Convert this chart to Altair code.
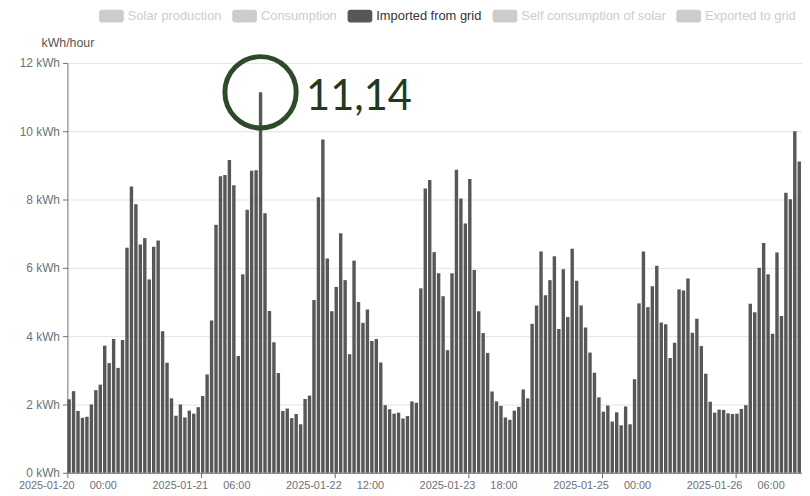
import altair as alt
import pandas as pd

# ---- data ----
series_names = ["Solar production", "Consumption", "Imported from grid",
                "Self consumption of solar", "Exported to grid"]
series_colors = ["#cccccc", "#cccccc", "#575757", "#cccccc", "#cccccc"]
active_series = "Imported from grid"

start_time = "2025-01-20 00:00"
end_time = "2025-01-26 21:00"

imported = [
    2.15, 2.39, 1.81, 1.61, 1.64, 2.00, 2.42, 2.58, 3.72, 3.21, 3.92, 3.07,
    3.89, 6.59, 8.38, 7.86, 6.68, 6.87, 5.66, 6.62, 6.80, 4.14, 3.22, 2.18,
    1.67, 2.00, 1.62, 1.82, 1.73, 1.92, 2.25, 2.88, 4.46,
    7.26, 8.68, 8.72, 9.16, 8.42, 3.42, 5.81, 7.70, 8.84, 8.86, 11.14, 7.60,
    4.74, 3.82, 2.92, 1.81, 1.88, 1.60, 1.72, 1.42, 2.16, 2.26, 5.06, 8.07,
    9.76, 6.27, 4.73, 5.44, 7.01, 5.64, 3.47, 6.21,
    5.00, 4.39, 4.78, 3.86, 3.92, 3.23, 1.98, 1.86, 1.73, 1.76, 1.59, 1.66,
    2.09, 2.05, 5.40, 8.32, 8.57, 6.46, 5.84, 5.17, 3.59, 5.84, 8.87, 8.03,
    7.30, 8.60, 5.94, 4.73, 4.09, 3.51, 2.38, 2.09, 1.96,
    1.62, 1.55, 1.82, 1.93, 2.44, 2.18, 4.36, 4.90, 6.48, 5.20, 5.64, 6.34,
    4.21, 5.96, 4.56, 6.56, 5.62, 4.90, 4.25, 3.52, 2.93, 2.21, 1.79, 1.97,
    1.50, 1.77, 1.39, 1.94, 1.42, 2.74, 4.96, 6.48,
    4.85, 5.46, 6.06, 4.40, 4.35, 3.36, 3.81, 5.37, 5.34, 5.69, 4.10, 4.51,
    3.71, 2.90, 2.08, 1.76, 1.85, 1.84, 1.74, 1.72, 1.73, 1.87, 1.98, 4.95,
    4.70, 6.00, 6.73, 5.81, 4.07, 6.45, 4.59, 8.20, 8.01, 10.00, 9.11,
]

tick_times = ["2025-01-20 00:00", "2025-01-21 06:00", "2025-01-22 12:00",
              "2025-01-23 18:00", "2025-01-25 00:00", "2025-01-26 06:00"]
y_ticks = [0, 2, 4, 6, 8, 10, 12]
peak_label = "11,14"

# ---- tables ----
FMT = "%Y-%m-%dT%H:%M:%S"
times = pd.date_range(start_time, periods=len(imported), freq="h")
bars = pd.DataFrame({
    "t": times.strftime(FMT),
    "t2": (times + pd.Timedelta(minutes=46)).strftime(FMT),
    "v": imported,
    "series": active_series,
})

peak_i = max(range(len(imported)), key=lambda i: imported[i])
peak = pd.DataFrame({
    "t": [(times[peak_i] + pd.Timedelta(minutes=23)).strftime(FMT)],
    "v": [imported[peak_i]],
    "label": [peak_label],
})


def dt(s):
    ts = pd.Timestamp(s)
    return alt.DateTime(year=ts.year, month=ts.month, date=ts.day,
                        hours=ts.hour, minutes=ts.minute)


AXIS_GREY = "#6e7079"
FONT = "Liberation Sans"
ROUNDED = ("M-0.78,-0.52 L0.78,-0.52 A0.22,0.22 0 0 1 1,-0.30 L1,0.30 "
           "A0.22,0.22 0 0 1 0.78,0.52 L-0.78,0.52 A0.22,0.22 0 0 1 -1,0.30 "
           "L-1,-0.30 A0.22,0.22 0 0 1 -0.78,-0.52 Z")

x_enc = alt.X(
    "t:T",
    scale=alt.Scale(domain=[dt(start_time), dt(end_time)], nice=False,
                    padding=0),
    axis=alt.Axis(
        values=[dt(s) for s in tick_times],
        format="%Y-%m-%d\u00a0\u00a0\u00a0\u00a0\u00a0%H:%M",
        title=None, grid=False, labelFont=FONT, labelFontSize=11,
        labelColor=AXIS_GREY, domainColor=AXIS_GREY, tickColor=AXIS_GREY,
        tickSize=5, labelPadding=2, labelFlush=False, labelOverlap=False,
    ),
)

y_enc = alt.Y(
    "v:Q",
    scale=alt.Scale(domain=[0, 12], nice=False, padding=0),
    axis=alt.Axis(
        values=y_ticks, labelExpr="datum.value + ' kWh'",
        title="kWh/hour", titleAngle=0, titleX=0, titleY=-17,
        titleAlign="center", titleBaseline="alphabetic", titleFont=FONT,
        titleFontSize=12.5, titleFontWeight="normal", titleColor="#555555",
        gridColor="#e3e3e3", domainColor=AXIS_GREY, tickColor=AXIS_GREY,
        tickSize=5, labelPadding=3, labelColor=AXIS_GREY, labelFontSize=12,
        labelFont=FONT,
    ),
)

bar_layer = alt.Chart(bars).mark_bar().encode(
    x=x_enc,
    x2="t2:T",
    y=y_enc,
    y2=alt.datum(0),
    color=alt.Color(
        "series:N",
        scale=alt.Scale(domain=series_names, range=series_colors),
        legend=alt.Legend(
            orient="none", legendX=32, legendY=-60, direction="horizontal",
            columns=5, title=None, symbolType=ROUNDED, symbolSize=625,
            symbolStrokeWidth=0, symbolOpacity=1, labelFont=FONT,
            labelFontSize=13, labelOffset=4, columnPadding=9.5, padding=0,
            labelLimit=300,
            labelColor={"expr": "datum.value === '" + active_series +
                        "' ? '#333333' : '#cccccc'"},
        ),
    ),
)

circle_layer = alt.Chart(peak).mark_point(
    shape="circle", filled=False, size=5184, stroke="#2f4a2b",
    strokeWidth=5, opacity=1,
).encode(x="t:T", y="v:Q")

text_layer = alt.Chart(peak).mark_text(
    align="left", baseline="alphabetic", dx=46, dy=18, fontSize=42,
    font="Lato", color="#1f3a1f",
).encode(x="t:T", y="v:Q", text="label:N")

chart = alt.layer(bar_layer, circle_layer, text_layer).properties(
    width=742, height=414, autosize="none",
    padding={"left": 60, "top": 53, "right": 0, "bottom": 21},
    background="white",
).configure_view(stroke=None)

chart.save("out.html", embed_options={"renderer": "svg", "actions": False})
